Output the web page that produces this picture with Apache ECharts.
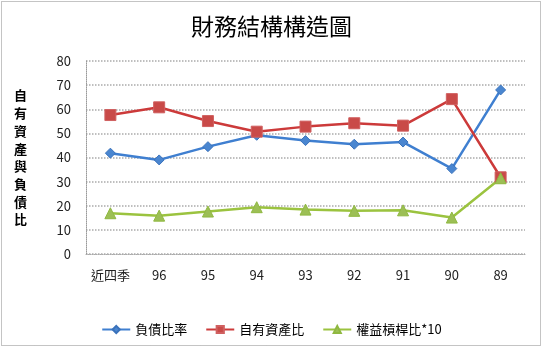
<!DOCTYPE html>
<html><head><meta charset="utf-8">
<script src="https://cdn.jsdelivr.net/npm/echarts@6/dist/echarts.min.js"></script>
<style>html,body{margin:0;padding:0;background:#fff}#c{width:543px;height:348px}</style>
</head><body><div id="c"></div>
<script>
var categories = ['近四季','96','95','94','93','92','91','90','89'];
var debtRatio = [41.8, 39.0, 44.5, 49.2, 47.0, 45.5, 46.4, 35.4, 68.0];
var equityRatio = [57.6, 60.8, 55.1, 50.7, 52.8, 54.2, 53.2, 64.2, 31.8];
var leverage10 = [16.9, 15.9, 17.6, 19.4, 18.4, 17.9, 18.1, 15.1, 31.4];
var seriesNames = ['負債比率','自有資產比','權益槓桿比*10'];
var yTicks = {min:0, max:80, interval:10};
var yName = '自有資產與負債比';
var titleText = '財務結構構造圖';

var font = '"Noto Sans CJK TC","Noto Sans",sans-serif';
var chart = echarts.init(document.getElementById('c'));
chart.setOption({
  animation:false,
  textStyle:{fontFamily:font},
  title:{text:titleText,left:'center',top:10,textStyle:{fontSize:23,fontWeight:'normal',color:'#000',fontFamily:font}},
  graphic:[{type:'rect',shape:{x:1.5,y:1.5,width:539,height:344},style:{fill:'none',stroke:'#888',lineWidth:1,lineDash:[1,1]},silent:true}],
  grid:{left:86,right:18,top:61,bottom:94},
  legend:{left:'center',top:318,itemWidth:28,itemHeight:9,itemGap:18,textStyle:{fontSize:13,color:'#000',fontFamily:font},data:seriesNames},
  xAxis:{type:'category',data:categories,boundaryGap:true,
    axisLine:{lineStyle:{color:'#aaa',type:'dotted'}},axisTick:{show:false},
    axisLabel:{color:'#222',fontSize:13,margin:15,interval:0}},
  yAxis:{type:'value',min:yTicks.min,max:yTicks.max,interval:yTicks.interval,
    name:yName.split('').join('\n'),nameLocation:'middle',nameRotate:0,nameGap:59,
    nameTextStyle:{fontSize:13,lineHeight:17.7,color:'#000',fontWeight:'bold'},
    axisLine:{show:true,lineStyle:{color:'#999',type:'dotted'}},axisTick:{show:false},
    axisLabel:{color:'#222',fontSize:13,margin:15},
    splitLine:{lineStyle:{color:'#aaa',type:'dotted',width:1.5}}},
  series:[
    {name:seriesNames[0],type:'line',data:debtRatio,symbol:'diamond',symbolSize:10,
      lineStyle:{color:'#3f7fd0',width:2.5},itemStyle:{color:'#4a86d0',borderColor:'#3a72bb',borderWidth:1}},
    {name:seriesNames[1],type:'line',data:equityRatio,symbol:'rect',symbolSize:11,
      lineStyle:{color:'#cc3a3a',width:2.5},itemStyle:{color:'#c94a48',borderColor:'#d06060',borderWidth:1}},
    {name:seriesNames[2],type:'line',data:leverage10,symbol:'triangle',symbolSize:11,
      lineStyle:{color:'#9bc33f',width:2.5},itemStyle:{color:'#9cbf55',borderColor:'#8fb840',borderWidth:1}}
  ]
});
</script></body></html>
